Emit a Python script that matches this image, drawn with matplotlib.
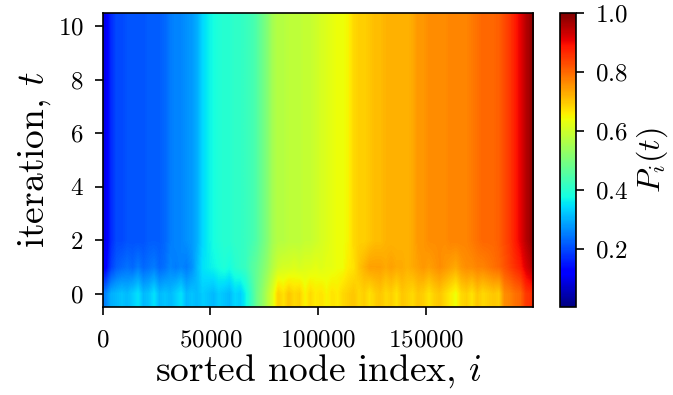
import matplotlib
matplotlib.use("Agg")
import matplotlib.pyplot as plt
import numpy as np

plt.rcParams['font.family'] = 'cmr10'
plt.rcParams['mathtext.fontset'] = 'cm'
plt.rcParams['axes.formatter.use_mathtext'] = True

# node index range and iterations
n_nodes = 200000
iterations = list(range(11))

row_t0 = [0.26, 0.30, 0.31, 0.32, 0.31, 0.33, 0.35, 0.31, 0.32, 0.35,
          0.31, 0.32, 0.31, 0.33, 0.35, 0.31, 0.32, 0.31, 0.33, 0.32,
          0.31, 0.33, 0.32, 0.31, 0.34, 0.33, 0.37, 0.42, 0.48, 0.52,
          0.57, 0.62, 0.69, 0.67, 0.70, 0.68, 0.69, 0.65, 0.68, 0.66,
          0.67, 0.65, 0.67, 0.66, 0.68, 0.69, 0.70, 0.68, 0.69, 0.67,
          0.69, 0.70, 0.68, 0.69, 0.67, 0.70, 0.69, 0.68, 0.70, 0.69,
          0.67, 0.69, 0.70, 0.68, 0.66, 0.64, 0.68, 0.69, 0.67, 0.70,
          0.68, 0.69, 0.70, 0.69, 0.76, 0.77, 0.79, 0.80, 0.85, 0.86]

row_t1 = [0.12, 0.19, 0.22, 0.23, 0.24, 0.23, 0.25, 0.23, 0.24, 0.25,
          0.23, 0.24, 0.26, 0.25, 0.26, 0.25, 0.27, 0.31, 0.35, 0.36,
          0.37, 0.38, 0.39, 0.38, 0.40, 0.41, 0.42, 0.45, 0.47, 0.50,
          0.53, 0.57, 0.60, 0.61, 0.61, 0.62, 0.61, 0.62, 0.62, 0.63,
          0.62, 0.63, 0.63, 0.64, 0.64, 0.66, 0.67, 0.70, 0.72, 0.74,
          0.74, 0.74, 0.73, 0.74, 0.73, 0.73, 0.72, 0.73, 0.74, 0.75,
          0.74, 0.75, 0.76, 0.75, 0.74, 0.73, 0.75, 0.76, 0.76, 0.77,
          0.77, 0.78, 0.79, 0.80, 0.82, 0.84, 0.86, 0.88, 0.92, 0.95]

# rows t >= 2 are practically converged
row_steady = [0.10, 0.17, 0.20, 0.20, 0.21, 0.21, 0.21, 0.21, 0.22, 0.22,
              0.22, 0.23, 0.25, 0.26, 0.26, 0.27, 0.28, 0.30, 0.34, 0.36,
              0.38, 0.39, 0.40, 0.40, 0.41, 0.41, 0.42, 0.43, 0.45, 0.48,
              0.51, 0.55, 0.57, 0.57, 0.58, 0.58, 0.58, 0.59, 0.59, 0.60,
              0.61, 0.62, 0.63, 0.64, 0.64, 0.65, 0.68, 0.69, 0.69, 0.70,
              0.71, 0.71, 0.72, 0.72, 0.72, 0.72, 0.72, 0.73, 0.75, 0.75,
              0.76, 0.76, 0.76, 0.76, 0.77, 0.77, 0.77, 0.77, 0.78, 0.79,
              0.80, 0.80, 0.80, 0.81, 0.83, 0.85, 0.88, 0.91, 0.95, 0.98]

P = np.array([row_t0, row_t1] + [row_steady] * (len(iterations) - 2))

fig = plt.figure(figsize=(6.73, 3.95), dpi=100)
ax = fig.add_axes([0.1530, 0.2228, 0.6390, 0.7443])
cax = fig.add_axes([0.8321, 0.2228, 0.0238, 0.7443])

im = ax.imshow(P, cmap='jet', origin='lower', aspect='auto',
               interpolation='bilinear', vmin=0.003, vmax=1.0,
               extent=[0, n_nodes, iterations[0] - 0.5, iterations[-1] + 0.5])

ax.set_xticks([0, 50000, 100000, 150000])
ax.set_yticks([0, 2, 4, 6, 8, 10])
ax.tick_params(labelsize=18, length=6, width=1.2, direction='out')
ax.tick_params(axis='x', pad=10)
ax.tick_params(axis='y', pad=8)
ax.set_xlabel(r'sorted node index, $i$', fontsize=27, labelpad=1)
ax.set_ylabel(r'iteration, $t$', fontsize=27, labelpad=3)
for s in ax.spines.values():
    s.set_linewidth(1.2)

cb = fig.colorbar(im, cax=cax)
cb.set_ticks([0.2, 0.4, 0.6, 0.8, 1.0])
cb.ax.tick_params(labelsize=18, length=6, width=1.2, pad=8)
cb.outline.set_linewidth(1.2)
cb.set_label(r'$P_i(t)$', fontsize=23, labelpad=4)

fig.savefig('out.png', dpi=100)
